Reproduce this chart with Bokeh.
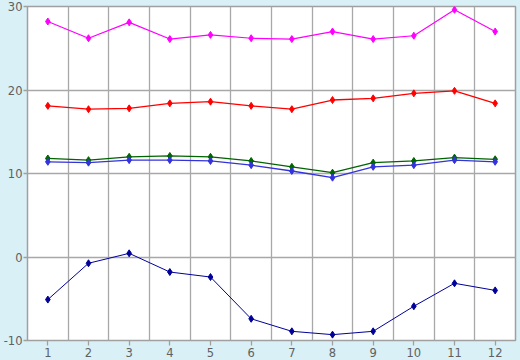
from bokeh.plotting import figure
from bokeh.models import FixedTicker, Range1d
from bokeh.embed import file_html
from bokeh.resources import INLINE

months = list(range(1, 13))
magenta_vals = [28.2, 26.2, 28.1, 26.1, 26.6, 26.2, 26.1, 27.0, 26.1, 26.5, 29.6, 27.0]
red_vals = [18.1, 17.7, 17.8, 18.4, 18.6, 18.1, 17.7, 18.8, 19.0, 19.6, 19.9, 18.4]
green_vals = [11.8, 11.6, 12.0, 12.1, 12.0, 11.5, 10.8, 10.1, 11.3, 11.5, 11.9, 11.7]
blue_vals = [11.4, 11.3, 11.6, 11.6, 11.5, 11.0, 10.3, 9.5, 10.8, 11.0, 11.6, 11.4]
navy_vals = [-5.1, -0.75, 0.44, -1.8, -2.4, -7.4, -8.9, -9.3, -8.9, -5.9, -3.15, -4.0]
y_ticks = [-10, 0, 10, 20, 30]
y_labels = ["-10", "0", "10", "20", "30"]

series = [
    (magenta_vals, "#ff00ff", 1.2),
    (red_vals, "#ff0000", 1.3),
    (green_vals, "#006400", 1.3),
    (blue_vals, "#3333dd", 1.3),
    (navy_vals, "#000099", 1.0),
]

p = figure(width=520, height=360, output_backend="svg", toolbar_location=None,
           x_range=Range1d(0.5, 12.5), y_range=Range1d(-10, 30),
           min_border_left=26, min_border_top=6, min_border_right=5, min_border_bottom=20)

bg = "#d9f0f7"
p.border_fill_color = bg
p.background_fill_color = "white"
p.outline_line_color = "#a0a0a0"
p.outline_line_width = 1.5

p.xaxis.ticker = FixedTicker(ticks=months)
p.yaxis.ticker = FixedTicker(ticks=y_ticks)
p.yaxis.major_label_overrides = {t: s for t, s in zip(y_ticks, y_labels)}
p.xgrid.ticker = FixedTicker(ticks=[m + 0.5 for m in months[:-1]])
p.ygrid.ticker = FixedTicker(ticks=y_ticks)
for g in (p.xgrid, p.ygrid):
    g.grid_line_color = "#a8a8a8"
    g.grid_line_width = 1.3

for ax in (p.xaxis, p.yaxis):
    ax.axis_line_color = None
    ax.major_tick_line_color = "#a0a0a0"
    ax.major_tick_line_width = 1.3
    ax.minor_tick_line_color = None
    ax.major_tick_in = 0
    ax.major_label_text_color = "#606060"
    ax.major_label_text_font = "DejaVu Sans"
    ax.major_label_text_font_size = "11.5px"

p.xaxis.major_tick_out = 5
p.xaxis.major_label_standoff = 2
p.yaxis.major_tick_out = 4
p.yaxis.major_label_standoff = 1

for vals, color, lw in series:
    p.line(months, vals, line_color=color, line_width=lw)
    p.scatter(months, vals, marker="diamond", size=7, fill_color=color, line_color=color)

html = file_html(p, INLINE)
html = html.replace("<head>", "<head><style>html,body{margin:0;padding:0;overflow:hidden;background:%s;}</style>" % bg, 1)
open("out.html", "w").write(html)
